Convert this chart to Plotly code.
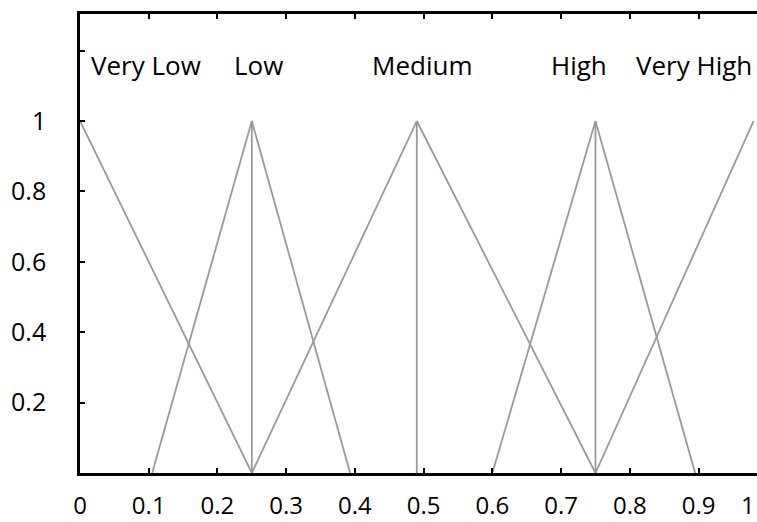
import plotly.graph_objects as go

# Membership functions (x, membership)
sets = ["Very Low", "Low", "Medium", "High", "Very High"]
very_low_x = [0.0, 0.25]
very_low_y = [1.0, 0.0]
low_x = [0.105, 0.25, 0.393]
low_y = [0.0, 1.0, 0.0]
medium_x = [0.25, 0.49, 0.75]
medium_y = [0.0, 1.0, 0.0]
high_x = [0.60, 0.75, 0.895]
high_y = [0.0, 1.0, 0.0]
very_high_x = [0.75, 0.98]
very_high_y = [0.0, 1.0]
peaks_x = [0.25, 0.49, 0.75]  # vertical lines drawn at the triangle peaks

label_x = [0.096, 0.26, 0.497, 0.726, 0.894]
label_y = 1.16

x_tickvals = [0, 0.1, 0.2, 0.3, 0.4, 0.5, 0.6, 0.7, 0.8, 0.9]
x_ticktext = ["0", "0.1", "0.2", "0.3", "0.4", "0.5", "0.6", "0.7", "0.8", "0.9"]
y_tickvals = [0.2, 0.4, 0.6, 0.8, 1.0, 1.2]
y_ticktext = ["0.2", "0.4", "0.6", "0.8", "1", ""]

LINE = dict(color="#9a9a9a", width=1.8)
FONT = "Open Sans"

fig = go.Figure()
for xs, ys in [(very_low_x, very_low_y), (low_x, low_y), (medium_x, medium_y),
               (high_x, high_y), (very_high_x, very_high_y)]:
    fig.add_trace(go.Scatter(x=xs, y=ys, mode="lines", line=LINE,
                             showlegend=False, hoverinfo="skip", cliponaxis=False))
for px in peaks_x:
    fig.add_trace(go.Scatter(x=[px, px], y=[0, 1], mode="lines", line=LINE,
                             showlegend=False, hoverinfo="skip"))

for name, lx in zip(sets, label_x):
    fig.add_annotation(x=lx, y=label_y, xref="x", yref="y", text=name,
                       showarrow=False, xanchor="center", yanchor="middle",
                       font=dict(family=FONT, size=26, color="black"))

# last x tick label "1" sits at the right edge of the picture
fig.add_annotation(x=1, y=0, xref="paper", yref="paper", text="1",
                   showarrow=False, xanchor="right", yanchor="middle",
                   yshift=-31, xshift=0,
                   font=dict(family=FONT, size=24, color="black"))

fig.update_layout(
    width=757, height=522,
    margin=dict(l=80, r=0, t=14, b=49, autoexpand=False),
    paper_bgcolor="white", plot_bgcolor="white",
    font=dict(family=FONT, size=25, color="black"),
)
fig.update_xaxes(range=[0, 0.985], tickvals=x_tickvals, ticktext=x_ticktext,
                 tickfont=dict(size=24),
                 showline=True, linecolor="black", linewidth=2.6, mirror="ticks",
                 ticks="inside", ticklen=5, tickwidth=2, tickcolor="black",
                 showgrid=False, zeroline=False, ticklabelstandoff=9,
                 automargin=False)
fig.update_yaxes(range=[0, 1.304], tickvals=y_tickvals, ticktext=y_ticktext,
                 showline=True, linecolor="black", linewidth=2.6, mirror=False,
                 ticks="inside", ticklen=5, tickwidth=2, tickcolor="black",
                 showgrid=False, zeroline=False, ticklabelstandoff=26,
                 automargin=False)

fig.write_html("out.html", config={"displayModeBar": False},
               post_script="document.body.style.margin='0';"
                           "document.body.style.overflow='hidden';")
